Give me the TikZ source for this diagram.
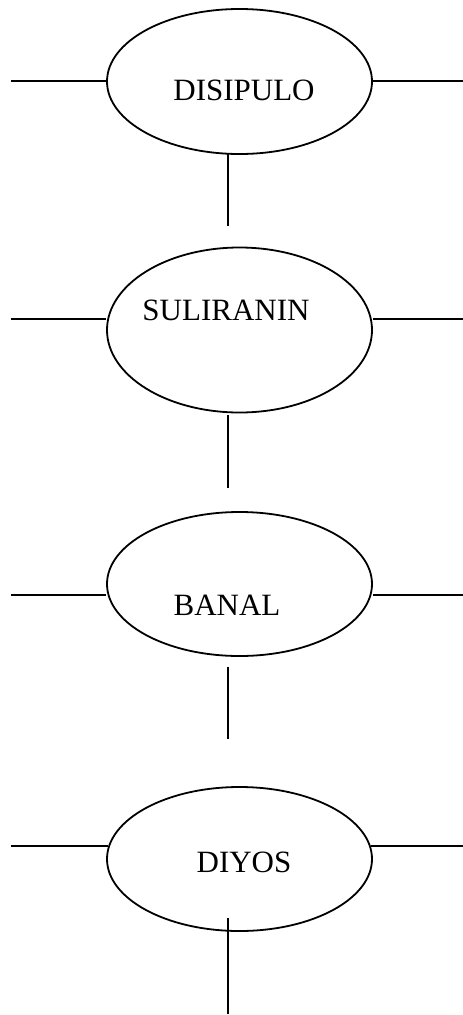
\documentclass[tikz,border=0pt]{standalone}
\usepackage{fontspec}
\setmainfont{Liberation Serif}
\usetikzlibrary{shapes.geometric}
\begin{document}
\begin{tikzpicture}[x=1pt,y=-1pt,
  oval/.style={draw, line width=1.8pt, ellipse, inner sep=0pt, minimum width=265pt},
  conn/.style={line width=1.8pt},
  lbl/.style={anchor=base, inner sep=0pt, font=\fontsize{31}{37}\selectfont}]
\useasboundingbox (0,0) rectangle (463,1015);
% ellipses
\node[oval, minimum height=145pt] (e1) at (239.5,81.5) {};
\node[oval, minimum height=165pt] (e2) at (239.5,330) {};
\node[oval, minimum height=144pt] (e3) at (239.5,584) {};
\node[oval, minimum height=144pt] (e4) at (239.5,859) {};
% labels
\node[lbl] (t1) at (244,100) {DISIPULO};
\node[lbl] (t2) at (226,320.7) {SULIRANIN};
\node[lbl] (t3) at (227,615) {BANAL};
\node[lbl] (t4) at (244,872.7) {DIYOS};
% side line ends
\coordinate (l1) at (11,80.7);  \coordinate (r1) at (463,80.7);
\coordinate (l2) at (11,319.3); \coordinate (r2) at (463,319.3);
\coordinate (l3) at (11,595);   \coordinate (r3) at (463,595);
\coordinate (l4) at (11,846);   \coordinate (r4) at (463,846);
\draw[conn] (l1) -- (e1.west |- l1);
\draw[conn] (e1.east |- r1) -- (r1);
\draw[conn] (l2) -- (e2.west |- l2);
\draw[conn] (e2.east |- r2) -- (r2);
\draw[conn] (l3) -- (e3.west |- l3);
\draw[conn] (e3.east |- r3) -- (r3);
\draw[conn] (l4) -- ([xshift=2pt]e4.west |- l4);
\draw[conn] ([xshift=-2pt]e4.east |- r4) -- (r4);
% vertical lines
\coordinate (v1a) at (228,154);   \coordinate (v1b) at (228,226);
\coordinate (v2a) at (228,415.3); \coordinate (v2b) at (228,488.3);
\coordinate (v3a) at (228,666.7); \coordinate (v3b) at (228,739.3);
\coordinate (v4a) at (228,918.3); \coordinate (v4b) at (228,1014);
\draw[conn] (v1a) -- (v1b);
\draw[conn] (v2a) -- (v2b);
\draw[conn] (v3a) -- (v3b);
\draw[conn] (v4a) -- (v4b);
\end{tikzpicture}
\end{document}
